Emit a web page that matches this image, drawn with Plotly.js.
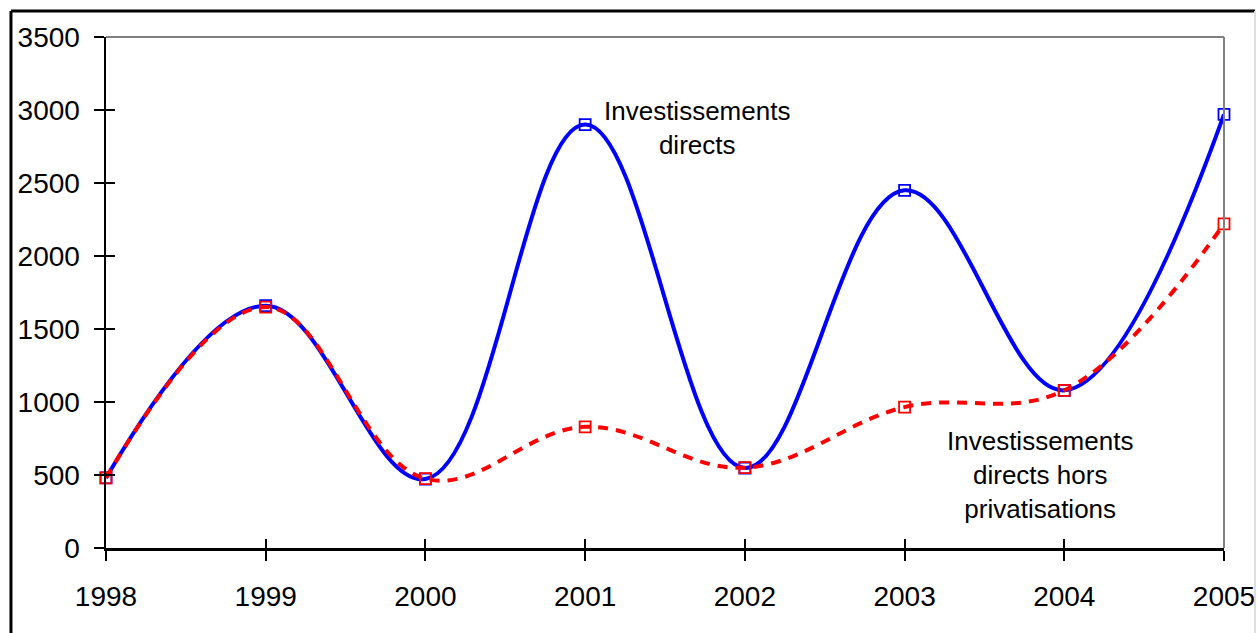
<!DOCTYPE html>
<html>
<head>
<meta charset="utf-8">
<script src="https://cdn.plot.ly/plotly-3.0.1.min.js"></script>
<style>html,body{margin:0;padding:0;background:#fff;}#chart{width:1257px;height:633px;}</style>
</head>
<body>
<div id="chart"></div>
<script>
const years = [1998, 1999, 2000, 2001, 2002, 2003, 2004, 2005];
const investDirects = [480, 1660, 472, 2900, 548, 2450, 1080, 2970];
const investHorsPrivat = [480, 1650, 475, 830, 550, 965, 1080, 2220];
const yTicks = [0, 500, 1000, 1500, 2000, 2500, 3000, 3500];
const labelDirects = "Investissements<br>directs";
const labelHors = "Investissements<br>directs hors<br>privatisations";

const FONT = "Liberation Sans, Arial, sans-serif";

const traces = [
  {
    x: years, y: investDirects, type: 'scatter', mode: 'lines+markers',
    line: {color: '#0000FF', width: 4, shape: 'spline', smoothing: 1.1},
    marker: {symbol: 'square-open', size: 11, color: '#0000FF', line: {width: 1.8, color: '#0000FF'}},
    cliponaxis: false, hoverinfo: 'x+y', name: 'Investissements directs'
  },
  {
    x: years, y: investHorsPrivat, type: 'scatter', mode: 'lines+markers',
    xaxis: 'x2', yaxis: 'y2',
    line: {color: '#FF0000', width: 4, shape: 'spline', smoothing: 1.1, dash: '10px,8px'},
    marker: {symbol: 'square-open', size: 11, color: '#FF0000', line: {width: 1.8, color: '#FF0000'}},
    cliponaxis: false, hoverinfo: 'x+y', name: 'Investissements directs hors privatisations'
  }
];

const layout = {
  width: 1257, height: 633,
  margin: {l: 106, r: 33, t: 37, b: 85},
  paper_bgcolor: '#ffffff', plot_bgcolor: '#ffffff',
  showlegend: false,
  font: {family: FONT, color: '#000', size: 28},
  xaxis: {
    range: [1998, 2005], tickvals: years, ticktext: years.map(String),
    showgrid: false, zeroline: false, showline: true, linecolor: '#000', linewidth: 2.5,
    ticks: 'outside', ticklen: 10, tickwidth: 2, tickcolor: '#000', ticklabelstandoff: 12,
    tickfont: {family: FONT, size: 28, color: '#000'}, fixedrange: true
  },
  yaxis: {
    range: [0, 3500], tickvals: yTicks, ticktext: yTicks.map(String),
    showgrid: false, zeroline: false, showline: true, linecolor: '#000', linewidth: 2.5,
    ticks: 'outside', ticklen: 10, tickwidth: 2, tickcolor: '#000', ticklabelstandoff: 8,
    tickfont: {family: FONT, size: 28, color: '#000'}, fixedrange: true
  },
  xaxis2: {
    overlaying: 'x', anchor: 'y2', side: 'bottom', range: [1998, 2005], tickvals: years,
    showticklabels: false, showgrid: false, zeroline: false, showline: false,
    ticks: 'inside', ticklen: 9, tickwidth: 2, tickcolor: '#000', fixedrange: true
  },
  yaxis2: {
    overlaying: 'y', anchor: 'x2', side: 'left', range: [0, 3500], tickvals: yTicks,
    showticklabels: false, showgrid: false, zeroline: false, showline: false,
    ticks: 'inside', ticklen: 9, tickwidth: 2, tickcolor: '#000', fixedrange: true
  },
  shapes: [
    {type: 'line', xref: 'paper', yref: 'paper', x0: 0, x1: 1, y0: 1, y1: 1, line: {color: '#808080', width: 2}},
    {type: 'line', xref: 'paper', yref: 'paper', x0: 1, x1: 1, y0: 0, y1: 1, line: {color: '#808080', width: 2}},
    {type: 'line', xref: 'paper', yref: 'paper', x0: -0.085, x1: 1.0277, y0: 1.0508, y1: 1.0508, line: {color: '#000', width: 3}},
    {type: 'line', xref: 'paper', yref: 'paper', x0: -0.085, x1: -0.085, y0: -0.17, y1: 1.0508, line: {color: '#000', width: 3}},
    {type: 'line', xref: 'paper', yref: 'paper', x0: 1.0277, x1: 1.0277, y0: -0.17, y1: 1.0508, line: {color: '#dddddd', width: 2}}
  ],
  annotations: [
    {x: 2001.7, y: 2880, xref: 'x', yref: 'y', text: labelDirects, showarrow: false,
     font: {family: FONT, size: 26, color: '#000'}, align: 'center'},
    {x: 2003.85, y: 500, xref: 'x', yref: 'y', text: labelHors, showarrow: false,
     font: {family: FONT, size: 26, color: '#000'}, align: 'center'}
  ]
};

Plotly.newPlot('chart', traces, layout, {displayModeBar: false, staticPlot: true});
</script>
</body>
</html>
